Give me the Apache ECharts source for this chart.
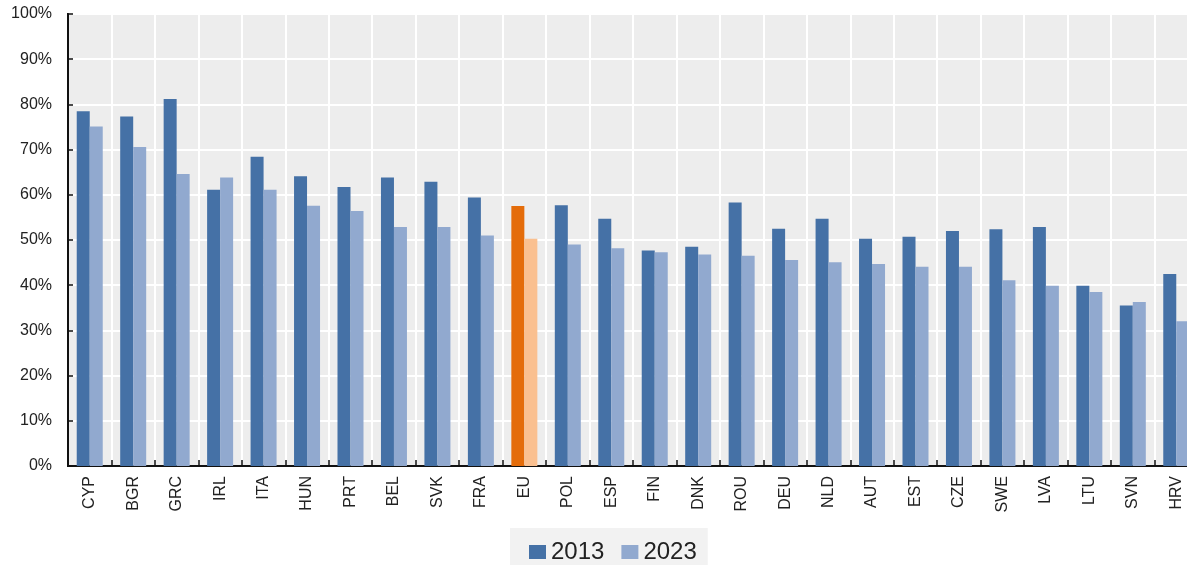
<!DOCTYPE html>
<html>
<head>
<meta charset="utf-8">
<script src="https://cdn.jsdelivr.net/npm/echarts@6/dist/echarts.min.js"></script>
<style>
  html, body { margin: 0; padding: 0; background: #fff; overflow: hidden; }
  #main { width: 1187px; height: 565px; }
</style>
</head>
<body>
<div id="main"></div>
<script>
// 国家代码
const countries = ['CYP', 'BGR', 'GRC', 'IRL', 'ITA', 'HUN', 'PRT', 'BEL', 'SVK', 'FRA', 'EU', 'POL', 'ESP',
    'FIN', 'DNK', 'ROU', 'DEU', 'NLD', 'AUT', 'EST', 'CZE', 'SWE', 'LVA', 'LTU', 'SVN', 'HRV'];
// 2013 / 2023 数值 (%)
const values2013 = [78.5, 77.3, 81.2, 61.1, 68.4, 64.1, 61.7, 63.8, 62.9, 59.4, 57.5, 57.7, 54.7,
    47.7, 48.5, 58.3, 52.5, 54.7, 50.3, 50.7, 52.0, 52.4, 52.9, 39.9, 35.5, 42.5];
const values2023 = [75.1, 70.6, 64.6, 63.8, 61.1, 57.6, 56.4, 52.9, 52.9, 51.0, 50.3, 49.0, 48.2,
    47.3, 46.8, 46.5, 45.6, 45.1, 44.7, 44.1, 44.1, 41.1, 39.9, 38.5, 36.3, 32.0];
const yTicks = [0, 10, 20, 30, 40, 50, 60, 70, 80, 90, 100];
const highlight = 'EU';

const dark = '#4571a6';
const light = '#91a9cf';

var chart = echarts.init(document.getElementById('main'));

// EU 用橙色
function withHighlight(vals, color) {
    return vals.map(function (v, i) {
        if (countries[i] === highlight) {
            return { value: v, itemStyle: { color: color } };
        }
        return v;
    });
}

var option = {
    animation: false,
    textStyle: { fontFamily: 'Liberation Sans, Arial, sans-serif' },
    grid: {
        left: 68,
        top: 14,
        bottom: 99,
        right: -11,
        show: true,
        backgroundColor: '#ededed',
        borderColor: '#111',
        borderWidth: 2,
        outerBoundsMode: 'none'
    },
    legend: {
        left: 510,
        top: 528,
        padding: [12, 11, 12, 19],
        backgroundColor: '#f2f2f2',
        itemWidth: 17,
        itemHeight: 14,
        itemGap: 17,
        icon: 'rect',
        textStyle: { fontSize: 24, color: '#222', lineHeight: 24 },
        data: ['2013', '2023']
    },
    xAxis: {
        type: 'category',
        data: countries,
        axisLine: { lineStyle: { color: '#111', width: 2 } },
        axisTick: { show: true, inside: true, length: 6, lineStyle: { color: '#111', width: 1.5 } },
        splitLine: { show: true, lineStyle: { color: '#fff', width: 2 } },
        axisLabel: { rotate: 90, interval: 0, fontSize: 16, color: '#222', margin: 10 }
    },
    yAxis: {
        type: 'value',
        min: yTicks[0],
        max: yTicks[yTicks.length - 1],
        interval: 10,
        axisLine: { show: true, lineStyle: { color: '#111', width: 2 } },
        axisTick: { show: true, inside: true, length: 5, lineStyle: { color: '#111', width: 1.5 } },
        splitLine: { lineStyle: { color: '#fff', width: 2 } },
        axisLabel: { formatter: '{value}%', fontSize: 16, color: '#222', margin: 16 }
    },
    series: [
        {
            name: '2013',
            type: 'bar',
            barWidth: 13,
            barGap: '0%',
            itemStyle: { color: dark },
            data: withHighlight(values2013, '#e46c0a')
        },
        {
            name: '2023',
            type: 'bar',
            barWidth: 13,
            barGap: '0%',
            itemStyle: { color: light },
            data: withHighlight(values2023, '#fac090')
        }
    ]
};

chart.setOption(option);
</script>
</body>
</html>
